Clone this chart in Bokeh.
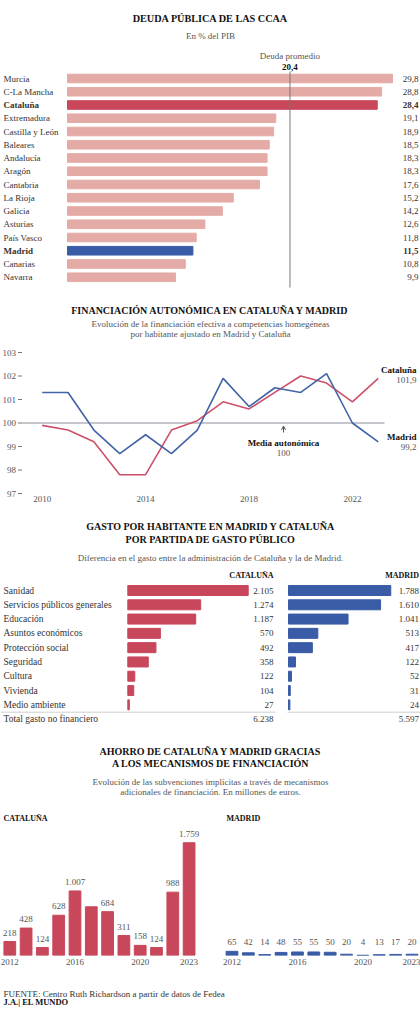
from bokeh.plotting import figure
from bokeh.models import Range1d, FixedTicker, Arrow, OpenHead, ColumnDataSource
from bokeh.layouts import column, row
from bokeh.core.properties import value, field
from bokeh.embed import file_html
from bokeh.resources import INLINE

# ---------------- DATA ----------------
regions = ["Murcia", "C-La Mancha", "Cataluña", "Extremadura", "Castilla y León", "Baleares",
           "Andalucía", "Aragón", "Cantabria", "La Rioja", "Galicia", "Asturias",
           "País Vasco", "Madrid", "Canarias", "Navarra"]
debt = [29.8, 28.8, 28.4, 19.1, 18.9, 18.5, 18.3, 18.3, 17.6, 15.2, 14.2, 12.6, 11.8, 11.5, 10.8, 9.9]
avg_debt = 20.4

fin_years = [2010, 2011, 2012, 2013, 2014, 2015, 2016, 2017, 2018, 2019, 2020, 2021, 2022, 2023]
fin_cat = [99.9, 99.7, 99.2, 97.8, 97.8, 99.7, 100.1, 100.9, 100.6, 101.3, 102.0, 101.7, 100.9, 101.9]
fin_mad = [101.3, 101.3, 99.7, 98.7, 99.5, 98.7, 99.7, 101.9, 100.7, 101.5, 101.3, 102.1, 100.0, 99.2]
fin_mean = 100
fin_yticks = [97, 98, 99, 100, 101, 102, 103]
fin_xticks = [2010, 2014, 2018, 2022]

partidas = ["Sanidad", "Servicios públicos generales", "Educación", "Asuntos económicos",
            "Protección social", "Seguridad", "Cultura", "Vivienda", "Medio ambiente"]
gasto_cat = [2105, 1274, 1187, 570, 492, 358, 122, 104, 27]
gasto_mad = [1788, 1610, 1041, 513, 417, 122, 52, 31, 24]
total_label = "Total gasto no financiero"
total_cat = 6238
total_mad = 5597

ahorro_years = [2012, 2013, 2014, 2015, 2016, 2017, 2018, 2019, 2020, 2021, 2022, 2023]
ahorro_cat = [218, 428, 124, 628, 1007, 760, 684, 311, 158, 124, 988, 1759]
ahorro_cat_labelled = [True, True, True, True, True, False, True, True, True, True, True, True]
ahorro_mad = [65, 42, 14, 48, 55, 55, 50, 20, 4, 13, 17, 20]
ahorro_xticks = [2012, 2016, 2020, 2023]

# ---------------- STYLE ----------------
FONT = "Liberation Serif"
RED = "#c8475b"
PALE = "#e4aba6"
BLUE = "#3a5ca6"
LRED = "#cc5069"
LBLUE = "#4263a8"
TXT = "#333333"
SUB = "#555555"
TITLE = "#111111"


def es_int(v):
    return f"{v:,}".replace(",", ".")


def es_dec(v):
    return f"{v:.1f}".replace(".", ",")


def base_fig(w, h, xr, yr, **kw):
    opts = dict(width=w, height=h, x_range=xr, y_range=yr, output_backend="svg",
                toolbar_location=None, min_border=0, outline_line_color=None,
                background_fill_color="white", border_fill_color="white",
                min_border_left=0, min_border_right=0, min_border_top=0)
    opts.update(kw)
    p = figure(**opts)
    p.grid.visible = False
    return p


def add_text(p, xs, ys, texts, size="9px", align="left", style="normal", color=TXT,
             baseline="middle", y_offset=0):
    if not isinstance(xs, list):
        xs = [xs] * len(texts)
    if not isinstance(ys, list):
        ys = [ys] * len(texts)
    data = dict(x=xs, y=ys, t=texts)
    kw = {}
    if isinstance(style, list):
        data["s"] = style
        kw["text_font_style"] = field("s")
    else:
        kw["text_font_style"] = style
    if isinstance(color, list):
        data["c"] = color
        kw["text_color"] = field("c")
    else:
        kw["text_color"] = color
    src = ColumnDataSource(data)
    p.text(x="x", y="y", text="t", source=src, text_font=value(FONT), text_font_size=size,
           text_align=align, text_baseline=baseline, y_offset=y_offset, **kw)


# ================= 1. DEUDA =================
H1 = 292
def x1(px): return (px - 67) / 10.906
def y1(py): return (py - 78) / 13.25

p1 = base_fig(420, H1, Range1d(x1(0), x1(420)), Range1d(y1(H1), y1(0)),
              x_axis_location=None, y_axis_location=None, min_border_bottom=0)
idx1 = list(range(len(regions)))
bar_colors = [RED if r == "Cataluña" else BLUE if r == "Madrid" else PALE for r in regions]
styles1 = ["bold" if r in ("Cataluña", "Madrid") else "normal" for r in regions]
p1.hbar(y=idx1, left=0, right=debt, height=0.65, color=bar_colors)
p1.segment(x0=[avg_debt], y0=[y1(71)], x1=[avg_debt], y1=[y1(287)], line_color="#777777", line_width=1)
add_text(p1, x1(3), idx1, regions, size="9px", style=styles1, color=TXT)
add_text(p1, x1(418), idx1, [es_dec(v) for v in debt], size="9px", align="right", style=styles1, color=TXT)
add_text(p1, avg_debt, y1(55.7), ["Deuda promedio"], size="9px", align="center", color=SUB)
add_text(p1, avg_debt, y1(66), [es_dec(avg_debt)], size="9px", align="center", style="bold", color=TITLE)
add_text(p1, x1(210), y1(17.5), ["DEUDA PÚBLICA DE LAS CCAA"], size="10.2px", align="center", style="bold", color=TITLE)
add_text(p1, x1(210), y1(35), ["En % del PIB"], size="9px", align="center", color=SUB)

# ================= 2. FINANCIACIÓN =================
H2 = 218
TOP2 = 292
def x2(px): return 2010 + (px - 41.7) / 25.85
def y2(py): return 97 + (493 - py) / 23.5

p2 = base_fig(420, H2, Range1d(x2(0), x2(420)), Range1d(y2(TOP2 + H2), y2(TOP2)),
              x_axis_location=None, y_axis_location=None, min_border_bottom=0)
# y ticks (labels + small tick marks), x tick labels
add_text(p2, x2(15.5), fin_yticks, [str(t) for t in fin_yticks], size="9px", align="right", color=SUB)
p2.segment(x0=[x2(17.5)] * len(fin_yticks), y0=fin_yticks, x1=[x2(21.5)] * len(fin_yticks),
           y1=fin_yticks, line_color="#777777", line_width=1)
add_text(p2, fin_xticks, y2(498.5), [str(t) for t in fin_xticks], size="9px", align="center", color=SUB)

p2.segment(x0=[x2(21.5)], y0=[fin_mean], x1=[x2(384)], y1=[fin_mean], line_color="#8a8f99", line_width=1)
p2.line(fin_years, fin_cat, line_color=LRED, line_width=1.6)
p2.line(fin_years, fin_mad, line_color=LBLUE, line_width=1.6)

add_text(p2, x2(210), y2(310), ["FINANCIACIÓN AUTONÓMICA EN CATALUÑA Y MADRID"], size="10px",
         align="center", style="bold", color=TITLE)
add_text(p2, x2(210), [y2(323.5), y2(333)],
         ["Evolución de la financiación efectiva a competencias homegéneas",
          "por habitante ajustado en Madrid y Cataluña"], size="9px", align="center", color=SUB)
add_text(p2, x2(416), [y2(369), y2(436)], ["Cataluña", "Madrid"], size="9px", align="right",
         style="bold", color=TITLE)
add_text(p2, x2(416), [y2(379), y2(446.5)], [es_dec(fin_cat[-1]), es_dec(fin_mad[-1])], size="9px",
         align="right", color=SUB)
add_text(p2, x2(283), y2(442.5), ["Media autonómica"], size="9px", align="center", style="bold", color=TITLE)
add_text(p2, x2(283), y2(452), [str(fin_mean)], size="9px", align="center", color=SUB)
p2.add_layout(Arrow(end=OpenHead(size=4, line_color="#555555", line_width=1),
                    x_start=x2(283), y_start=y2(432), x_end=x2(283), y_end=y2(425.5),
                    line_color="#555555", line_width=1))

# ================= 3. GASTO =================
H3 = 222
TOP3 = 510
def x3(px): return (px - 127.3) / 0.0572
def y3(py): return (py - 590) / 14.29

p3 = base_fig(420, H3, Range1d(x3(0), x3(420)), Range1d(y3(TOP3 + H3), y3(TOP3)),
              x_axis_location=None, y_axis_location=None, min_border_bottom=0)
idx3 = list(range(len(partidas)))
mad_off = x3(288)
p3.hbar(y=idx3, left=0, right=gasto_cat, height=0.7, color=RED)
p3.hbar(y=idx3, left=mad_off, right=[mad_off + v for v in gasto_mad], height=0.7, color=BLUE)
tot_row = len(partidas)
p3.segment(x0=[x3(0), x3(287)], y0=[y3(711.7)] * 2, x1=[x3(275), x3(420)], y1=[y3(711.7)] * 2,
           line_color="#cfcfcf", line_width=1)
add_text(p3, x3(3), idx3 + [tot_row], partidas + [total_label], size="9.5px", color=TXT)
add_text(p3, x3(273), idx3 + [tot_row], [es_int(v) for v in gasto_cat] + [es_int(total_cat)],
         size="9px", align="right", color=TXT)
add_text(p3, x3(418.5), idx3 + [tot_row], [es_int(v) for v in gasto_mad] + [es_int(total_mad)],
         size="9px", align="right", color=TXT)
add_text(p3, [x3(273), x3(418.5)], y3(575), ["CATALUÑA", "MADRID"], size="8px", align="right",
         style="bold", color=TITLE)
add_text(p3, x3(210), [y3(526), y3(539.3)],
         ["GASTO POR HABITANTE EN MADRID Y CATALUÑA", "POR PARTIDA DE GASTO PÚBLICO"],
         size="10px", align="center", style="bold", color=TITLE)
add_text(p3, x3(210), y3(557.7),
         ["Diferencia en el gasto entre la administración de Cataluña y la de Madrid."],
         size="9px", align="center", color=SUB)

# ================= 4. AHORRO (header) =================
H4 = 73
p4h = base_fig(420, H4, Range1d(0, 420), Range1d(H4, 0), x_axis_location=None, y_axis_location=None,
               min_border_bottom=0)
add_text(p4h, 210, [18.7, 31.3], ["AHORRO DE CATALUÑA Y MADRID GRACIAS", "A LOS MECANISMOS DE FINANCIACIÓN"],
         size="10px", align="center", style="bold", color=TITLE)
add_text(p4h, 210, [49.7, 59.7], ["Evolución de las subvenciones implícitas a través de mecanismos",
                                 "adicionales de financiación. En millones de euros."],
         size="9px", align="center", color=SUB)

# ================= 4. AHORRO (bars) =================
H4B = 170
BOT4 = 955
def y4(py): return (BOT4 - py) / 0.0641


def bar_fig(first_center_px, step_px):
    xs = ahorro_years[0] - first_center_px / step_px
    p = base_fig(210, H4B, Range1d(xs, xs + 210 / step_px), Range1d(0, y4(805)),
                 x_axis_location="below", y_axis_location=None, min_border_bottom=20)
    p.xaxis.ticker = FixedTicker(ticks=ahorro_xticks)
    p.xaxis.axis_line_color = None
    p.xaxis.major_tick_line_color = None
    p.xaxis.minor_tick_line_color = None
    p.xaxis.major_tick_in = 0
    p.xaxis.major_tick_out = 0
    p.xaxis.major_label_standoff = 3
    p.xaxis.major_label_text_font = FONT
    p.xaxis.major_label_text_font_size = "9px"
    p.xaxis.major_label_text_color = SUB
    return p, xs


p4a, xs_a = bar_fig(9.3, 16.3)
p4a.vbar(x=ahorro_years, top=ahorro_cat, width=0.72, bottom=0, color=RED)
lab_years = [y for y, k in zip(ahorro_years, ahorro_cat_labelled) if k]
lab_vals = [v for v, k in zip(ahorro_cat, ahorro_cat_labelled) if k]
add_text(p4a, lab_years, lab_vals, [es_int(v) for v in lab_vals], size="9px", align="center",
         color=SUB, y_offset=-9)
add_text(p4a, xs_a + 3 / 16.3, y4(818), ["CATALUÑA"], size="8px", style="bold", color=TITLE)

p4b, xs_b = bar_fig(21.5, 16.36)
p4b.vbar(x=ahorro_years, top=ahorro_mad, width=0.72, bottom=0, color=BLUE)
add_text(p4b, ahorro_years, max(ahorro_mad), [es_int(v) for v in ahorro_mad], size="9px",
         align="center", color=SUB, y_offset=-9)
add_text(p4b, xs_b + 16 / 16.36, y4(818), ["MADRID"], size="8px", style="bold", color=TITLE)

# ================= FOOTER =================
H5 = 49
p5 = base_fig(420, H5, Range1d(0, 420), Range1d(H5, 0), x_axis_location=None, y_axis_location=None,
              min_border_bottom=0)
add_text(p5, 3, [18.3], ["FUENTE: Centro Ruth Richardson a partir de datos de Fedea"], size="9px", color=TXT)
add_text(p5, 3, [26.7], ["J.A.| EL MUNDO"], size="8.5px", style="bold", color=TITLE)

layout = column(p1, p2, p3, p4h, row(p4a, p4b), p5)
open("out.html", "w").write(file_html(layout, INLINE))
